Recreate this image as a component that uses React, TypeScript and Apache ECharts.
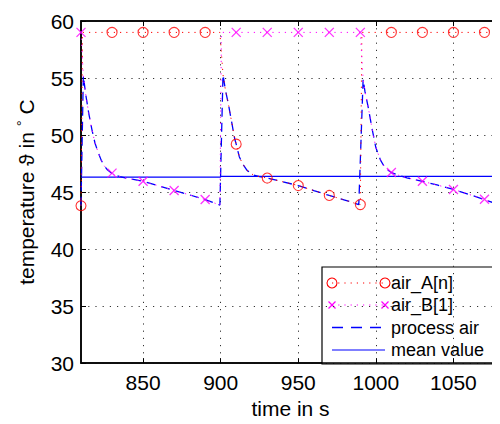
import React, { useEffect, useRef } from "react";
import * as echarts from "echarts";

// ---- data ----
const xTickValues = [850, 900, 950, 1000, 1050];

// process air (blue dashed)
const processTime = [
  810, 811.5, 813, 815, 817, 819, 821, 823, 825, 827, 830, 835, 840, 850, 860, 870, 880, 890, 899.5,
  901.5, 903, 905, 907, 909, 910, 912, 914, 917, 921, 925, 930, 940, 950, 960, 970, 980, 989,
  991.8, 993, 995, 997.5, 1000, 1003, 1006, 1010, 1015, 1020, 1030, 1040, 1050, 1060, 1070, 1077,
];
const processTemp = [
  43.8, 55.2, 53.6, 51.9, 50.5, 49.3, 48.5, 47.8, 47.3, 46.95, 46.62, 46.35, 46.2, 45.94, 45.55, 45.14, 44.75, 44.34, 43.86,
  55.3, 54.0, 52.7, 51.2, 49.7, 49.2, 48.1, 47.5, 46.9, 46.5, 46.35, 46.23, 45.9, 45.57, 45.13, 44.7, 44.3, 43.9,
  54.9, 53.8, 52.5, 50.6, 48.9, 47.8, 47.1, 46.71, 46.45, 46.25, 45.94, 45.6, 45.23, 44.8, 44.34, 44.0,
];

// mean value (blue solid)
const meanTime = [810, 900, 900, 990, 990, 1080];
const meanTemp = [46.31, 46.31, 46.38, 46.38, 46.37, 46.37];

// markers every 20 s
const markerTime = [810, 830, 850, 870, 890, 910, 930, 950, 970, 990, 1010, 1030, 1050, 1070];
const airAMarkers = [43.8, 59, 59, 59, 59, 49.2, 46.23, 45.57, 44.7, 43.9, 59, 59, 59, 59];
const airBMarkers = [59, 46.66, 45.94, 45.14, 44.34, 59, 59, 59, 59, 59, 46.71, 45.94, 45.23, 44.37];

// high level of the storage air and switching times
const airHigh = 59;
const airAStart = [810, 43.8];
const airARise1 = 811;
const airAFallEnd = 899.5;
const airATrackFrom = 901.5;
const airATrackTo = 989;
const airAEndLow = [990, 43.9];
const airARise2 = 991;
const airBTrackTo1 = 899.5;
const airBJump = 900.5;
const airBHoldTo = 990;
const airBTrackFrom2 = 991.8;

export default function App() {
  const ref = useRef<HTMLDivElement>(null);

  useEffect(() => {
    if (!ref.current) return;
    const chart = echarts.init(ref.current, undefined, { renderer: "svg" });

    const proc = processTime.map((t, i) => [t, processTemp[i]]);
    const mean = meanTime.map((t, i) => [t, meanTemp[i]]);

    const airALine: number[][] = [
      airAStart,
      [airARise1, airHigh],
      [airAFallEnd, airHigh],
      ...proc.filter((p) => p[0] >= airATrackFrom && p[0] <= airATrackTo),
      airAEndLow,
      [airARise2, airHigh],
      [1080, airHigh],
    ];
    const airBLine: number[][] = [
      [810, airHigh],
      ...proc.filter((p) => p[0] > 810 && p[0] <= airBTrackTo1),
      [airBJump, airHigh],
      [airBHoldTo, airHigh],
      ...proc.filter((p) => p[0] >= airBTrackFrom2),
    ];

    const font = "'Liberation Sans', Arial, Helvetica, sans-serif";
    const red = "#ff0000";
    const mag = "#ff00ff";
    const blue = "#0000ff";

    const lx1 = 332, lx2 = 385, tx = 391;
    const rows = [283, 305, 327.5, 350];
    const xMark = (cx: number, cy: number) => [
      { type: "line", shape: { x1: cx - 3.5, y1: cy - 3.5, x2: cx + 3.5, y2: cy + 3.5 }, style: { stroke: mag, lineWidth: 1.2 } },
      { type: "line", shape: { x1: cx - 3.5, y1: cy + 3.5, x2: cx + 3.5, y2: cy - 3.5 }, style: { stroke: mag, lineWidth: 1.2 } },
    ];
    const legendText = (s: string, y: number) => ({
      type: "text",
      style: { text: s, x: tx, y, font: `18px ${font}`, fill: "#000", verticalAlign: "middle", align: "left" },
    });

    chart.setOption({
      animation: false,
      backgroundColor: "#fff",
      grid: {
        left: 81,
        right: -5,
        top: 21,
        bottom: 53,
        show: true,
        borderColor: "#000",
        borderWidth: 1.5,
        backgroundColor: "transparent",
      },
      xAxis: [
        {
          type: "value",
          min: 810,
          max: 1080,
          name: "time in s",
          nameLocation: "middle",
          nameGap: 34,
          nameTextStyle: { fontSize: 21, color: "#000", fontFamily: font },
          axisLine: { show: true, onZero: false, lineStyle: { color: "#000", width: 1.5 } },
          axisTick: { show: true, inside: true, length: 5, customValues: xTickValues, lineStyle: { color: "#000" } },
          axisLabel: {
            customValues: xTickValues,
            fontSize: 21,
            color: "#000",
            fontFamily: font,
            margin: 9,
            formatter: (v: number) => String(v),
          },
          splitLine: { show: true, lineStyle: { color: "#333", width: 1, type: [1.2, 6] } },
        },
        {
          type: "value",
          position: "top",
          min: 810,
          max: 1080,
          axisLine: { show: true, lineStyle: { color: "#000", width: 1.5 } },
          axisTick: { show: true, inside: true, length: 5, customValues: xTickValues, lineStyle: { color: "#000" } },
          axisLabel: { show: false },
          splitLine: { show: false },
        },
      ],
      yAxis: {
        type: "value",
        min: 30,
        max: 60,
        interval: 5,
        name: "temperature ϑ in {sup|°} C",
        nameLocation: "middle",
        nameGap: 42,
        nameTextStyle: {
          fontSize: 21,
          color: "#000",
          fontFamily: font,
          rich: { sup: { fontSize: 15, verticalAlign: "top", padding: [0, 0, 10, 0], color: "#000", fontFamily: font } },
        },
        axisLine: { show: true, lineStyle: { color: "#000", width: 1.5 } },
        axisTick: { show: true, inside: true, length: 5, lineStyle: { color: "#000" } },
        axisLabel: { fontSize: 21, color: "#000", fontFamily: font, margin: 7 },
        splitLine: { show: true, lineStyle: { color: "#333", width: 1, type: [1.2, 6] } },
      },
      series: [
        {
          name: "mean value",
          type: "line",
          data: mean,
          showSymbol: false,
          lineStyle: { color: blue, width: 1.2 },
          z: 2,
        },
        {
          name: "process air",
          type: "line",
          data: proc,
          showSymbol: false,
          lineStyle: { color: blue, width: 1.3, type: [9, 6] },
          z: 3,
        },
        {
          name: "air_A[n] line",
          type: "line",
          data: airALine,
          showSymbol: false,
          lineStyle: { color: red, width: 1, type: [1.2, 5] },
          z: 3,
        },
        {
          name: "air_B[1] line",
          type: "line",
          data: airBLine,
          showSymbol: false,
          lineStyle: { color: mag, width: 1, type: [1.2, 5] },
          z: 3,
        },
        {
          name: "air_A[n]",
          type: "scatter",
          data: markerTime.map((t, i) => [t, airAMarkers[i]]),
          symbol: "circle",
          symbolSize: 10,
          itemStyle: { color: "none", borderColor: red, borderWidth: 1.1 },
          z: 5,
        },
        {
          name: "air_B[1]",
          type: "scatter",
          data: markerTime.map((t, i) => [t, airBMarkers[i]]),
          symbol: "path://M0,0L10,10M10,0L0,10",
          symbolSize: 9,
          itemStyle: { color: "none", borderColor: mag, borderWidth: 1.3 },
          z: 5,
        },
      ],
      graphic: [
        {
          type: "group",
          z: 100,
          children: [
            {
              type: "rect",
              shape: { x: 322, y: 267, width: 175, height: 97 },
              style: { fill: "#fff", stroke: "#000", lineWidth: 1.2 },
            },
            { type: "line", shape: { x1: lx1, y1: rows[0], x2: lx2, y2: rows[0] }, style: { stroke: red, lineWidth: 1, lineDash: [1.2, 5] } },
            { type: "circle", shape: { cx: lx1, cy: rows[0], r: 5 }, style: { fill: "none", stroke: red, lineWidth: 1.1 } },
            { type: "circle", shape: { cx: lx2, cy: rows[0], r: 5 }, style: { fill: "none", stroke: red, lineWidth: 1.1 } },
            legendText("air_A[n]", rows[0]),
            { type: "line", shape: { x1: lx1, y1: rows[1], x2: lx2, y2: rows[1] }, style: { stroke: mag, lineWidth: 1, lineDash: [1.2, 5] } },
            ...xMark(lx1, rows[1]),
            ...xMark(lx2, rows[1]),
            legendText("air_B[1]", rows[1]),
            { type: "line", shape: { x1: lx1, y1: rows[2], x2: lx2, y2: rows[2] }, style: { stroke: blue, lineWidth: 1.3, lineDash: [11, 8] } },
            legendText("process air", rows[2]),
            { type: "line", shape: { x1: lx1, y1: rows[3], x2: lx2, y2: rows[3] }, style: { stroke: blue, lineWidth: 1.2 } },
            legendText("mean value", rows[3]),
          ],
        },
      ],
    });

    return () => chart.dispose();
  }, []);

  return <div ref={ref} style={{ width: 500, height: 424, margin: -8 }} />;
}
